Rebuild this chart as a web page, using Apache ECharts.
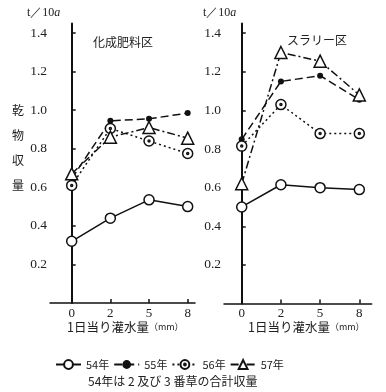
<!DOCTYPE html>
<html><head><meta charset="utf-8">
<script src="https://cdn.jsdelivr.net/npm/echarts@6/dist/echarts.min.js"></script>
<style>html,body{margin:0;padding:0;background:#fff}#c{width:386px;height:392px}</style>
</head><body><div id="c"></div>
<script>
const categories = ['0', '2', '5', '8'];
const yTicks = [0.2, 0.4, 0.6, 0.8, 1.0, 1.2, 1.4];
const seriesNames = ['54年', '55年', '56年', '57年'];
const kasei54 = [0.32, 0.44, 0.535, 0.50];
const kasei55 = [0.645, 0.945, 0.955, 0.985];
const kasei56 = [0.61, 0.905, 0.84, 0.775];
const kasei57 = [0.67, 0.86, 0.91, 0.855];
const slurry54 = [0.50, 0.615, 0.60, 0.59];
const slurry55 = [0.85, 1.15, 1.18, 1.055];
const slurry56 = [0.815, 1.03, 0.88, 0.88];
const slurry57 = [0.62, 1.30, 1.255, 1.08];

const INK = '#111';
const tickIdx = categories.map((c, i) => i);
const toPts = arr => arr.map((v, i) => [i, v]);
const ringDot = 'path://M0,-10A10,10,0,1,1,0,10A10,10,0,1,1,0,-10ZM0,-2A2,2,0,1,1,0,2A2,2,0,1,1,0,-2Z';

const styles = [
  { symbol: 'circle', symbolSize: 10, itemStyle: { color: '#fff', borderColor: INK, borderWidth: 1.5 }, lineStyle: { color: INK, width: 1.5, type: 'solid' } },
  { symbol: 'circle', symbolSize: 6, itemStyle: { color: INK, borderColor: INK, borderWidth: 0 }, lineStyle: { color: INK, width: 1.5, type: [8, 4] } },
  { symbol: ringDot, symbolSize: 10, itemStyle: { color: '#fff', borderColor: INK, borderWidth: 1.5 }, lineStyle: { color: INK, width: 1.5, type: [2, 3] } },
  { symbol: 'triangle', symbolSize: 12, itemStyle: { color: '#fff', borderColor: INK, borderWidth: 1.5 }, lineStyle: { color: INK, width: 1.5, type: [8, 3, 2, 3] } }
];

function mkSeries(idx, arrs) {
  return arrs.map((arr, k) => Object.assign({
    type: 'line', name: seriesNames[k], xAxisIndex: idx, yAxisIndex: idx,
    data: toPts(arr), animation: false, z: 2 + k
  }, JSON.parse(JSON.stringify(styles[k]))));
}

function xAx(grid, min, max) {
  return {
    gridIndex: grid, type: 'value', min: min, max: max,
    axisLine: { show: true, lineStyle: { color: INK, width: 1.5 } },
    axisTick: { show: true, inside: true, length: 4, customValues: tickIdx, lineStyle: { color: INK, width: 1.5 } },
    axisLabel: { customValues: tickIdx, formatter: v => categories[Math.round(v)], margin: 4, color: '#222', fontFamily: 'Liberation Serif', fontSize: 13 },
    splitLine: { show: false }
  };
}
function yAx(grid) {
  return {
    gridIndex: grid, type: 'value', min: 0, max: 1.45,
    axisLine: { show: true, lineStyle: { color: INK, width: 2 } },
    axisTick: { show: true, inside: true, length: 4, customValues: yTicks, lineStyle: { color: INK, width: 1.5 } },
    axisLabel: { customValues: yTicks, formatter: v => v.toFixed(1), margin: 3, color: '#222', fontFamily: 'Liberation Serif', fontSize: 13.5 },
    splitLine: { show: false }
  };
}

const sans = '"Noto Sans CJK JP", sans-serif';
function txt(x, y, text, size, align, extra) {
  return Object.assign({ type: 'text', x: x, y: y, style: Object.assign({ text: text, fill: '#222', font: size + 'px ' + sans, textAlign: align || 'left', textVerticalAlign: 'middle' }, extra || {}) });
}
function unitTxt(x, y) {
  return { type: 'text', x: x, y: y, style: { text: '{a|t／10}{b|a}', textVerticalAlign: 'middle', rich: { a: { fontFamily: 'Liberation Serif', fontSize: 12, fill: '#222' }, b: { fontFamily: 'Liberation Serif', fontStyle: 'italic', fontSize: 12, fill: '#222' } } } };
}
function xName(x, y) {
  return { type: 'text', x: x, y: y, style: { text: '{a|1日当り灌水量}{b|（mm）}', textVerticalAlign: 'middle', rich: { a: { fontFamily: sans, fontSize: 12.5, fill: '#222' }, b: { fontFamily: sans, fontSize: 9, fill: '#222' } } } };
}

const chart = echarts.init(document.getElementById('c'), null, { renderer: 'canvas' });
chart.setOption({
  backgroundColor: '#fff',
  animation: false,
  grid: [
    { left: 50, top: 23.4, width: 145, height: 279.6 },
    { left: 224, top: 23.5, width: 147.7, height: 280 }
  ],
  xAxis: [xAx(0, -0.561, 3.189), xAx(1, -0.452, 3.316)],
  yAxis: [yAx(0), yAx(1)],
  legend: {
    data: seriesNames, left: 55, top: 359, itemWidth: 25, itemHeight: 11, itemGap: 4, padding: 0,
    textStyle: { fontFamily: sans, fontSize: 11, color: '#222' }, selectedMode: false
  },
  graphic: [
    unitTxt(27, 13), unitTxt(203, 13),
    txt(93, 42, '化成肥料区', 12),
    txt(287, 40, 'スラリー区', 12, 'left', {}),
    { type: 'text', x: 18, y: 98, style: { text: '乾\n物\n収\n量', font: '12px ' + sans, fill: '#222', textAlign: 'center', lineHeight: 25 } },
    xName(67, 327), xName(248, 327),
    txt(88, 381, '54年は 2 及び 3 番草の合計収量', 12)
  ],
  series: mkSeries(0, [kasei54, kasei55, kasei56, kasei57]).concat(mkSeries(1, [slurry54, slurry55, slurry56, slurry57]))
});
</script>
</body></html>
